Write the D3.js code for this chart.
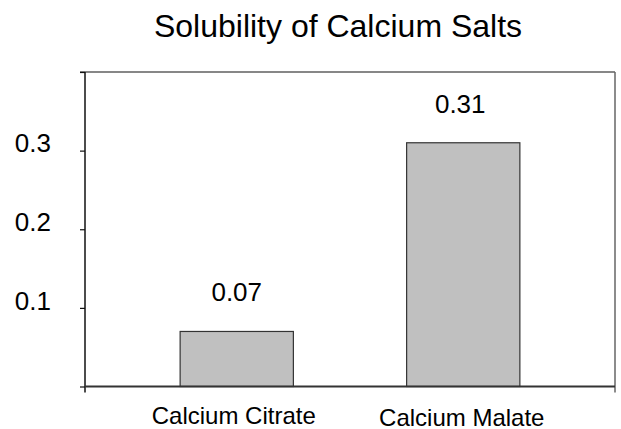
<!DOCTYPE html>
<meta charset="utf-8">
<title>Solubility of Calcium Salts</title>
<script src="https://d3js.org/d3.v7.min.js"></script>
<style>
	body { margin: 0; background: #fff; font-family: "Liberation Sans", Arial, sans-serif; }
	svg { display: block; }
</style>
<div id="chart"></div>
<script>

var categories = ["Calcium Citrate", "Calcium Malate"];
var values = [0.07, 0.31];
var valueLabels = ["0.07", "0.31"];
var yTicks = [0, 0.1, 0.2, 0.3, 0.4];
var yTickLabels = ["", "0.1", "0.2", "0.3", ""];
var title = "Solubility of Calcium Salts";

var width = 621, height = 429;
var plotLeft = 85, plotRight = 615, plotTop = 72, plotBottom = 386.5;

var svg = d3.select("#chart")
	.append("svg")
	.attr("width", width)
	.attr("height", height);

var x = d3.scaleBand()
	.domain(categories)
	.range([plotLeft, plotRight])
	.paddingInner(0.5)
	.paddingOuter(0.42);

var y = d3.scaleLinear()
	.domain([0, 0.4])
	.range([plotBottom, plotTop]);

// title
svg.append("text")
	.attr("x", 338)
	.attr("y", 37)
	.attr("text-anchor", "middle")
	.style("font-size", "32px")
	.attr("fill", "#000")
	.text(title);

// plot border (top + right)
svg.append("line")
	.attr("x1", plotLeft - 5).attr("x2", plotRight)
	.attr("y1", plotTop).attr("y2", plotTop)
	.attr("stroke", "#111").attr("stroke-width", 1.2);
svg.append("line")
	.attr("x1", plotRight).attr("x2", plotRight)
	.attr("y1", plotTop).attr("y2", plotBottom + 6)
	.attr("stroke", "#666").attr("stroke-width", 1.5);

// bars
svg.append("g")
	.selectAll("rect")
	.data(values)
	.enter().append("rect")
	.attr("x", function(d, i) { return x(categories[i]); })
	.attr("y", function(d) { return y(d); })
	.attr("width", x.bandwidth())
	.attr("height", function(d) { return y(0) - y(d); })
	.attr("fill", "#c0c0c0")
	.attr("stroke", "#333")
	.attr("stroke-width", 1.2);

// value labels
svg.append("g")
	.selectAll("text")
	.data(values)
	.enter().append("text")
	.attr("x", function(d, i) { return x(categories[i]) + x.bandwidth() / 2 - (i ? 3 : 0); })
	.attr("y", function(d) { return y(d) - 30; })
	.attr("text-anchor", "middle")
	.style("font-size", "26px")
	.text(function(d, i) { return valueLabels[i]; });

// y axis
var yAxis = d3.axisLeft(y)
	.tickValues(yTicks)
	.tickFormat(function(d, i) { return yTickLabels[i]; })
	.tickSize(5)
	.tickPadding(29);

var gy = svg.append("g")
	.attr("transform", "translate(" + plotLeft + ",0)")
	.call(yAxis);
gy.select(".domain").remove();
gy.append("line")
	.attr("x1", 0).attr("x2", 0)
	.attr("y1", plotTop).attr("y2", plotBottom + 6)
	.attr("stroke", "#111").attr("stroke-width", 1.5);
gy.selectAll(".tick line").attr("stroke", "#111").attr("stroke-width", 1.2);
gy.selectAll(".tick text")
	.attr("dy", "0.05em")
	.style("font-size", "26px")
	.style("font-family", "'Liberation Sans', Arial, sans-serif")
	.attr("fill", "#000");

// x axis
var xAxis = d3.axisBottom(x)
	.tickSize(0)
	.tickPadding(37);

var gx = svg.append("g")
	.attr("transform", "translate(0," + plotBottom + ")")
	.call(xAxis);
gx.select(".domain").remove();
gx.append("line")
	.attr("x1", plotLeft).attr("x2", plotRight)
	.attr("y1", 0).attr("y2", 0)
	.attr("stroke", "#333").attr("stroke-width", 2);
gx.selectAll(".tick text")
	.attr("dy", function(d, i) { return i ? "2px" : "0"; })
	.attr("dx", function(d, i) { return i ? "-1.5px" : "-3px"; })
	.style("font-size", "24px")
	.style("font-family", "'Liberation Sans', Arial, sans-serif")
	.attr("fill", "#000");

</script>
